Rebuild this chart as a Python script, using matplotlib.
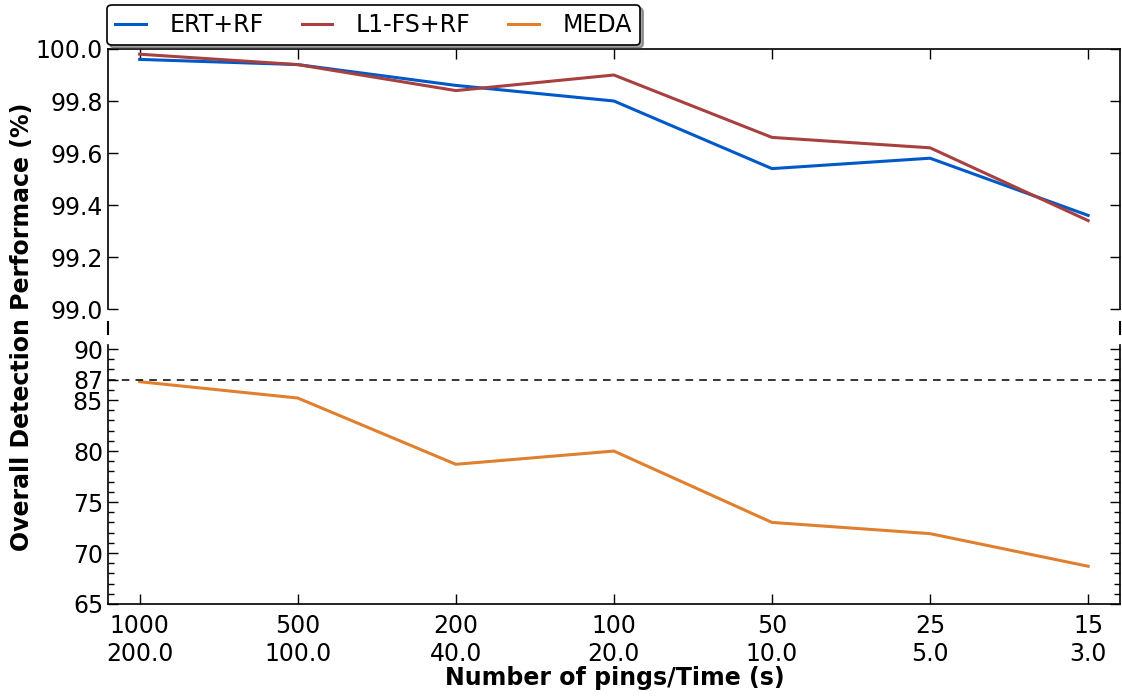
import numpy as np
import matplotlib
matplotlib.use('Agg')
import matplotlib.pyplot as plt
from matplotlib.ticker import MultipleLocator

pings = ['1000', '500', '200', '100', '50', '25', '15']
times = ['200.0', '100.0', '40.0', '20.0', '10.0', '5.0', '3.0']
ert_rf = [99.96, 99.94, 99.86, 99.80, 99.54, 99.58, 99.36]
l1fs_rf = [99.98, 99.94, 99.84, 99.90, 99.66, 99.62, 99.34]
meda = [86.8, 85.2, 78.7, 80.0, 73.0, 71.9, 68.7]
meda_ref = 87

c_ert = '#0059c9'
c_l1 = '#a8403f'
c_meda = '#e0802f'

plt.rcParams['font.family'] = 'DejaVu Sans'
fig = plt.figure(figsize=(11.22, 6.96), dpi=100)
L, R = 0.0963, 0.998
ax1 = fig.add_axes([L, 0.556, R - L, 0.9296 - 0.556])
ax2 = fig.add_axes([L, 0.1322, R - L, 0.5043 - 0.1322])

x = np.arange(len(pings))
h1, = ax1.plot(x, ert_rf, color=c_ert, lw=2.2, label='ERT+RF')
h2, = ax1.plot(x, l1fs_rf, color=c_l1, lw=2.2, label='L1-FS+RF')
h3, = ax2.plot(x, meda, color=c_meda, lw=2.2, label='MEDA')
ax2.axhline(meda_ref, color='black', lw=1.1, ls=(0, (5, 4)))

for ax in (ax1, ax2):
    ax.set_xlim(-0.2, 6.2)
    ax.set_xticks(x)
    ax.tick_params(direction='in', labelsize=17, length=7, width=1,
                   left=True, right=True)
    ax.tick_params(which='minor', direction='in', length=4, width=1,
                   left=True, right=True)
    for s in ax.spines.values():
        s.set_linewidth(1.2)

ax1.set_ylim(99.0, 100.0)
ax1.yaxis.set_major_locator(MultipleLocator(0.2))
ax1.yaxis.set_major_formatter(plt.FormatStrFormatter('%.1f'))
ax1.spines['bottom'].set_visible(False)
ax1.tick_params(axis='x', bottom=False, top=True, labelbottom=False)

ax2.set_ylim(65, 90.4)
ax2.set_yticks([65, 70, 75, 80, 85, 87, 90])
ax2.yaxis.set_minor_locator(MultipleLocator(1))
ax2.spines['top'].set_visible(False)
ax2.tick_params(axis='x', top=False, bottom=True, pad=7)
ax2.set_xticklabels([p + '\n' + t for p, t in zip(pings, times)])

# break marks
for xf in (L, R):
    fig.add_artist(plt.Line2D([xf, xf], [1 - 322 / 696, 1 - 334 / 696],
                              color='black', lw=1.5, transform=fig.transFigure))

fig.text(0.0196, 0.53, 'Overall Detection Performace (%)', rotation=90,
         ha='center', va='center', fontsize=17, fontweight='bold')
fig.text(0.548, 0.026, 'Number of pings/Time (s)', ha='center', va='center',
         fontsize=17, fontweight='bold')

leg = fig.legend([h1, h2, h3], ['ERT+RF', 'L1-FS+RF', 'MEDA'], ncol=3,
                 loc='lower left', bbox_to_anchor=(0.0954, 0.935),
                 borderaxespad=0, fontsize=17, shadow=True, fancybox=True,
                 framealpha=1, edgecolor='black', columnspacing=1.6,
                 handlelength=1.3, handletextpad=1.0, borderpad=0.35)
leg.get_frame().set_linewidth(1.2)

fig.savefig('out.png', dpi=100)
